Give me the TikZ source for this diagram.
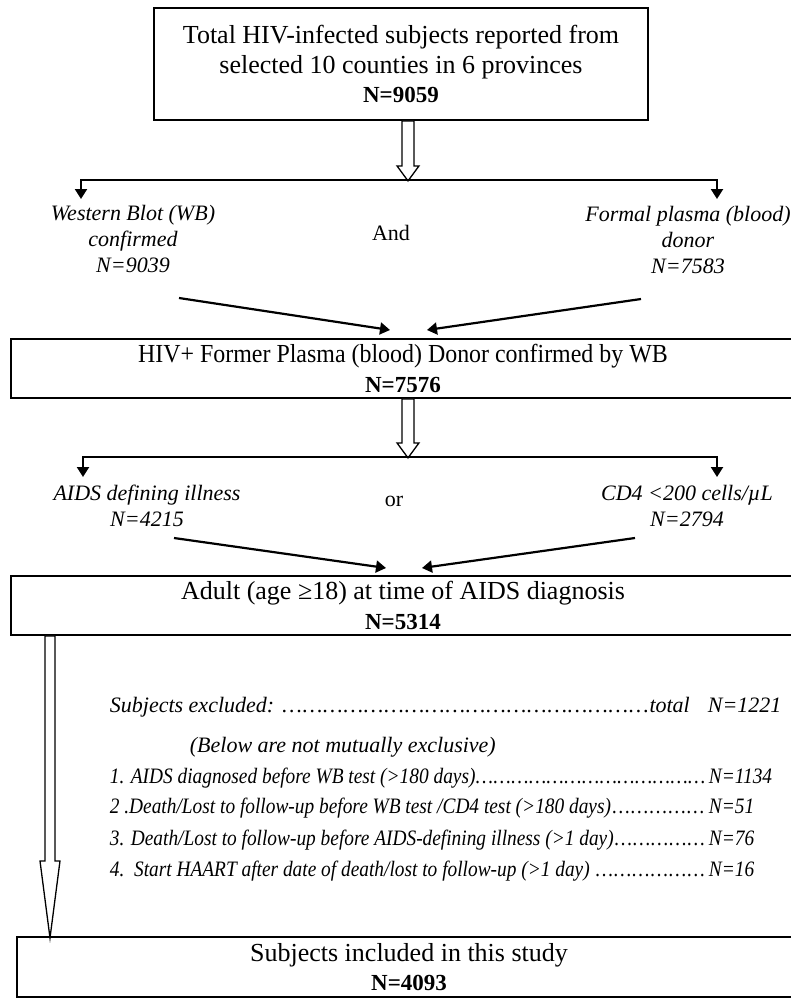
\documentclass[tikz,border=0pt]{standalone}
\usepackage{fontspec}
\setmainfont{Liberation Serif}
\newfontfamily\tightfont[FakeStretch=0.88]{Liberation Serif}
\newfontfamily\narrowfont[FakeStretch=0.92]{Liberation Serif}
\usetikzlibrary{arrows.meta}

\tikzset{every picture/.style={line width=1.8pt}}
\tikzset{
  box/.style={draw, line width=1.8pt, align=center, inner sep=0pt, font=\fontsize{26}{29.5}\selectfont},
  branch/.style={align=center, inner sep=0pt, font=\fontsize{22}{26}\selectfont\itshape},
  conj/.style={inner sep=0pt, font=\fontsize{22}{26}\selectfont},
  link/.style={line width=2.2pt, -{Triangle[length=10pt,width=12pt]}},
  hollow/.style={draw, fill=white, line width=1.3pt, line join=miter},
  excl/.style={anchor=base west, inner sep=0pt, font=\fontsize{22}{26}\selectfont\itshape},
  exclitem/.style={anchor=base west, inner sep=0pt, font=\fontsize{22}{26}\tightfont\itshape},
}
\newcommand{\dotrun}{\xleaders\hbox{…}\hfill}
\newcommand{\countN}[1]{{\fontsize{23}{29.5}\selectfont\bfseries #1}}
% hollow block arrow: start, shaft length, head length, half shaft, half head
\newcommand{\hollowdown}[5]{%
  \draw[hollow] ([xshift=-#4pt]#1) -- ++(0,#2) -- ++(#4-#5,0) -- ++(#5,#3) -- ++(#5,-#3) -- ++(#4-#5,0) -- ++(0,-#2) -- cycle;}

\begin{document}
\begin{tikzpicture}[x=1pt,y=1pt,yscale=-1,xscale=1]
\useasboundingbox (0,0) rectangle (791,999);

% Boxes
\node[box, minimum width=494pt, minimum height=112pt] (total) at (401,64) {Total HIV-infected subjects reported from\\ selected 10 counties in 6 provinces\\ \countN{N=9059}};
\node[box, minimum width=784pt, minimum height=59pt] (donor) at (403,368.5) {{\narrowfont HIV+ Former Plasma (blood) Donor confirmed by WB}\\ \countN{N=7576}};
\node[box, minimum width=784pt, minimum height=59pt] (adult) at (403,605.5) {Adult (age ≥18) at time of AIDS diagnosis\\ \countN{N=5314}};
\node[box, minimum width=784pt, minimum height=60pt] (included) at (409,967) {Subjects included in this study\\ \countN{N=4093}};

% first split
\coordinate (fork1) at (408,180);
\coordinate (drop1) at (total.south -| fork1);
\coordinate (d1l) at (81,199);
\coordinate (d1r) at (717,199);
\hollowdown{drop1}{45}{15}{6}{11}
\draw[link] (fork1) -| (d1l);
\draw[link] (fork1) -| (d1r);

\node[branch] (wb) at (133,239) {Western Blot (WB)\\ confirmed\\ N=9039};
\node[conj] (and) at (391,233) {And};
\node[branch] (fpd) at (688,240) {Formal plasma (blood)\\ donor\\ N=7583};

\coordinate (c1a) at (179,298);
\coordinate (t1a) at (390,330);
\coordinate (c1b) at (641,299);
\coordinate (t1b) at (427,330);
\draw[link] (c1a) -- (t1a);
\draw[link] (c1b) -- (t1b);

% second split
\coordinate (fork2) at (408,457);
\coordinate (drop2) at (donor.south -| fork2);
\coordinate (d2l) at (83,477);
\coordinate (d2r) at (717,477);
\hollowdown{drop2}{44}{15}{6}{11}
\draw[link] (fork2) -| (d2l);
\draw[link] (fork2) -| (d2r);

\node[branch] (aids) at (147,506) {AIDS defining illness\\ N=4215};
\node[conj] (or) at (394,501) {or};
\node[branch] (cd4) at (687,506) {CD4 <200 cells/µL\\ N=2794};

\coordinate (c2a) at (174,538);
\coordinate (t2a) at (386,568);
\coordinate (c2b) at (635,538);
\coordinate (t2b) at (422,568);
\draw[link] (c2a) -- (t2a);
\draw[link] (c2b) -- (t2b);

% exclusion arrow
\coordinate (drop3) at (adult.south -| 50,0);
\hollowdown{drop3}{225}{77}{5}{10}

% excluded subjects
\node[excl] (exctot) at (109,712) {\hbox to 580pt{Subjects excluded: \dotrun total}\hspace{18pt}N=1221};
\node[excl] (note) at (189,752) {(Below are not mutually exclusive)};
\node[exclitem] (exc1) at (109,783) {\hbox to 596pt{1. AIDS diagnosed before WB test (>180 days)\dotrun}\hspace{3pt}N=1134};
\node[exclitem] (exc2) at (109,813) {\hbox to 596pt{2 .Death/Lost to follow-up before WB test /CD4 test (>180 days)\dotrun}\hspace{3pt}N=51};
\node[exclitem] (exc3) at (109,845) {\hbox to 596pt{3. Death/Lost to follow-up before AIDS-defining illness (>1 day)\dotrun}\hspace{3pt}N=76};
\node[exclitem] (exc4) at (109,876) {\hbox to 596pt{4.\ \ Start HAART after date of death/lost to follow-up (>1 day) \dotrun}\hspace{3pt}N=16};

\end{tikzpicture}
\end{document}
